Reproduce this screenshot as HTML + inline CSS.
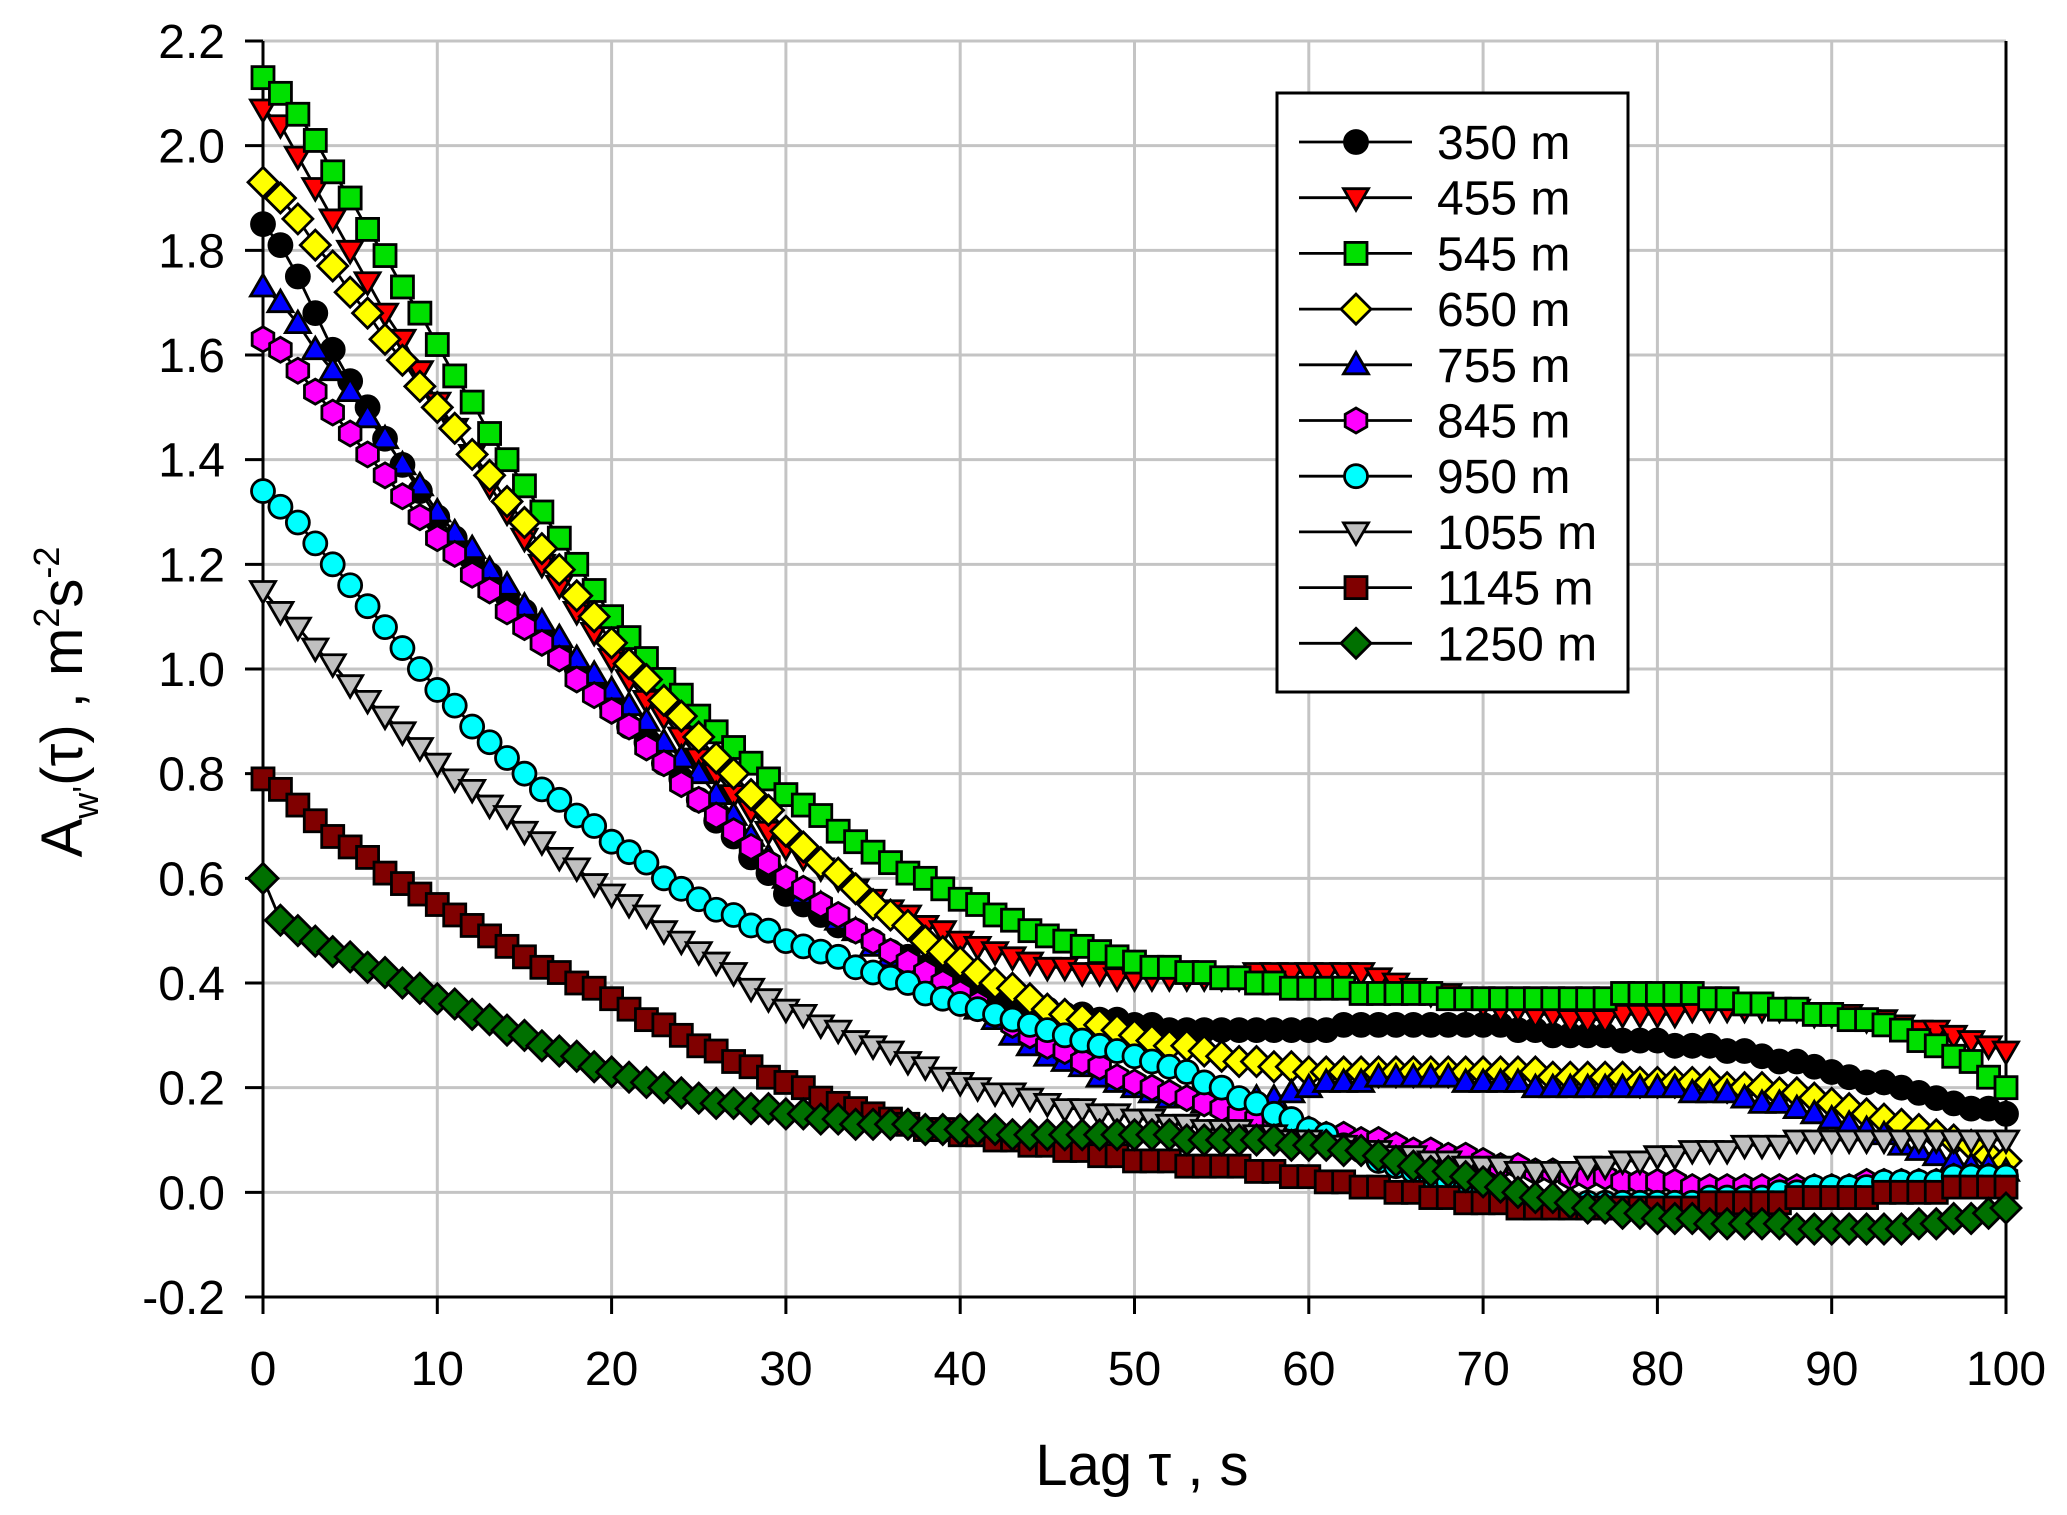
<!DOCTYPE html>
<html><head><meta charset="utf-8"><style>
html,body{margin:0;padding:0;background:#fff}
svg{display:block;font-family:"Liberation Sans",Arial,sans-serif}
</style></head><body>
<svg id="chart" width="2067" height="1515" viewBox="0 0 2067 1515" xmlns="http://www.w3.org/2000/svg">
<rect width="2067" height="1515" fill="#fff"/>
<g id="grid"></g>
<g id="axes"></g>
<g id="series"></g>
<g id="legend"></g>
<text x="1142" y="1485" font-size="58" text-anchor="middle">Lag τ , s</text>
<text transform="translate(82,702) rotate(-90)" font-size="58" text-anchor="middle">A<tspan font-size="36" dy="16">w'</tspan><tspan dy="-16">(τ) , m</tspan><tspan font-size="36" dy="-23">2</tspan><tspan dy="23">s</tspan><tspan font-size="36" dy="-23">-2</tspan></text>
</svg>
<script>
const xTicks=[0,10,20,30,40,50,60,70,80,90,100];
const yTicks=[-0.2,0.0,0.2,0.4,0.6,0.8,1.0,1.2,1.4,1.6,1.8,2.0,2.2];
const yTickLabels=["-0.2","0.0","0.2","0.4","0.6","0.8","1.0","1.2","1.4","1.6","1.8","2.0","2.2"];
const seriesNames=["350 m","455 m","545 m","650 m","755 m","845 m","950 m","1055 m","1145 m","1250 m"];
const s350=[1.85,1.81,1.75,1.68,1.61,1.55,1.50,1.44,1.39,1.34,1.29,1.25,1.21,1.18,1.14,1.11,1.07,1.04,1.00,0.97,0.93,0.89,0.86,0.82,0.79,0.75,0.71,0.68,0.64,0.61,0.57,0.55,0.53,0.51,0.50,0.48,0.46,0.45,0.43,0.42,0.40,0.39,0.38,0.37,0.36,0.35,0.34,0.34,0.33,0.33,0.32,0.32,0.31,0.31,0.31,0.31,0.31,0.31,0.31,0.31,0.31,0.31,0.32,0.32,0.32,0.32,0.32,0.32,0.32,0.32,0.32,0.32,0.31,0.31,0.30,0.30,0.30,0.30,0.29,0.29,0.29,0.28,0.28,0.28,0.27,0.27,0.26,0.25,0.25,0.24,0.23,0.22,0.21,0.21,0.20,0.19,0.18,0.17,0.16,0.16,0.15];
const s455=[2.07,2.04,1.98,1.92,1.86,1.80,1.74,1.68,1.63,1.57,1.51,1.46,1.41,1.35,1.30,1.25,1.20,1.16,1.11,1.07,1.02,0.98,0.94,0.91,0.87,0.83,0.80,0.76,0.73,0.69,0.66,0.64,0.62,0.60,0.58,0.56,0.54,0.53,0.51,0.50,0.48,0.47,0.46,0.45,0.44,0.43,0.43,0.42,0.42,0.41,0.41,0.41,0.41,0.41,0.41,0.41,0.41,0.42,0.42,0.42,0.42,0.42,0.42,0.42,0.41,0.40,0.39,0.38,0.38,0.37,0.36,0.35,0.35,0.34,0.34,0.33,0.33,0.33,0.34,0.34,0.34,0.34,0.35,0.35,0.35,0.35,0.35,0.35,0.35,0.34,0.34,0.34,0.33,0.33,0.32,0.31,0.31,0.30,0.29,0.28,0.27];
const s545=[2.13,2.10,2.06,2.01,1.95,1.90,1.84,1.79,1.73,1.68,1.62,1.56,1.51,1.45,1.40,1.35,1.30,1.25,1.20,1.15,1.10,1.06,1.02,0.98,0.95,0.91,0.88,0.85,0.82,0.79,0.76,0.74,0.72,0.69,0.67,0.65,0.63,0.61,0.60,0.58,0.56,0.55,0.53,0.52,0.50,0.49,0.48,0.47,0.46,0.45,0.44,0.43,0.43,0.42,0.42,0.41,0.41,0.40,0.40,0.39,0.39,0.39,0.39,0.38,0.38,0.38,0.38,0.38,0.37,0.37,0.37,0.37,0.37,0.37,0.37,0.37,0.37,0.37,0.38,0.38,0.38,0.38,0.38,0.37,0.37,0.36,0.36,0.35,0.35,0.34,0.34,0.33,0.33,0.32,0.31,0.29,0.28,0.26,0.25,0.22,0.20];
const s650=[1.93,1.90,1.86,1.81,1.77,1.72,1.68,1.63,1.59,1.54,1.50,1.46,1.41,1.37,1.32,1.28,1.23,1.19,1.14,1.10,1.05,1.01,0.98,0.94,0.91,0.87,0.83,0.80,0.76,0.73,0.69,0.66,0.63,0.61,0.58,0.55,0.53,0.51,0.48,0.46,0.44,0.42,0.40,0.39,0.37,0.35,0.34,0.33,0.32,0.31,0.30,0.29,0.28,0.28,0.27,0.26,0.25,0.25,0.24,0.24,0.23,0.23,0.23,0.23,0.23,0.23,0.23,0.23,0.23,0.23,0.23,0.23,0.23,0.23,0.22,0.22,0.22,0.22,0.22,0.21,0.21,0.21,0.21,0.21,0.20,0.20,0.20,0.19,0.19,0.18,0.17,0.16,0.15,0.14,0.13,0.12,0.11,0.10,0.09,0.07,0.06];
const s755=[1.73,1.70,1.66,1.61,1.57,1.53,1.48,1.44,1.39,1.35,1.30,1.26,1.23,1.19,1.16,1.12,1.09,1.06,1.02,0.99,0.96,0.93,0.90,0.86,0.83,0.80,0.76,0.72,0.68,0.64,0.60,0.57,0.55,0.52,0.50,0.47,0.45,0.43,0.41,0.39,0.37,0.35,0.33,0.30,0.28,0.26,0.25,0.24,0.22,0.21,0.20,0.19,0.18,0.18,0.17,0.17,0.17,0.18,0.18,0.19,0.20,0.21,0.21,0.21,0.22,0.22,0.22,0.22,0.22,0.21,0.21,0.21,0.21,0.20,0.20,0.20,0.20,0.20,0.20,0.20,0.20,0.20,0.19,0.19,0.19,0.18,0.17,0.17,0.16,0.15,0.14,0.13,0.12,0.11,0.09,0.08,0.07,0.06,0.05,0.05,0.04];
const s845=[1.63,1.61,1.57,1.53,1.49,1.45,1.41,1.37,1.33,1.29,1.25,1.22,1.18,1.15,1.11,1.08,1.05,1.02,0.98,0.95,0.92,0.89,0.85,0.82,0.78,0.75,0.72,0.69,0.66,0.63,0.60,0.58,0.55,0.53,0.50,0.48,0.46,0.44,0.42,0.40,0.38,0.36,0.34,0.32,0.30,0.28,0.27,0.25,0.24,0.22,0.21,0.20,0.19,0.18,0.17,0.16,0.15,0.14,0.14,0.13,0.12,0.11,0.11,0.10,0.10,0.09,0.08,0.08,0.07,0.07,0.06,0.05,0.05,0.04,0.04,0.03,0.03,0.03,0.02,0.02,0.02,0.02,0.01,0.01,0.01,0.01,0.01,0.01,0.01,0.01,0.01,0.01,0.02,0.02,0.02,0.02,0.02,0.03,0.03,0.03,0.03];
const s950=[1.34,1.31,1.28,1.24,1.20,1.16,1.12,1.08,1.04,1.00,0.96,0.93,0.89,0.86,0.83,0.80,0.77,0.75,0.72,0.70,0.67,0.65,0.63,0.60,0.58,0.56,0.54,0.53,0.51,0.50,0.48,0.47,0.46,0.45,0.43,0.42,0.41,0.40,0.38,0.37,0.36,0.35,0.34,0.33,0.32,0.31,0.30,0.29,0.28,0.27,0.26,0.25,0.24,0.23,0.21,0.20,0.18,0.17,0.15,0.14,0.12,0.11,0.09,0.08,0.06,0.05,0.04,0.03,0.02,0.01,0.00,-0.01,-0.01,-0.02,-0.02,-0.02,-0.02,-0.02,-0.02,-0.02,-0.02,-0.02,-0.02,-0.01,-0.01,-0.01,-0.01,0.00,0.00,0.01,0.01,0.01,0.01,0.02,0.02,0.02,0.02,0.03,0.03,0.03,0.03];
const s1055=[1.15,1.11,1.08,1.04,1.01,0.97,0.94,0.91,0.88,0.85,0.82,0.79,0.77,0.74,0.72,0.69,0.67,0.64,0.62,0.59,0.57,0.55,0.53,0.50,0.48,0.46,0.44,0.42,0.39,0.37,0.35,0.34,0.32,0.31,0.29,0.28,0.27,0.25,0.24,0.22,0.21,0.20,0.19,0.19,0.18,0.17,0.16,0.16,0.15,0.15,0.14,0.14,0.13,0.13,0.12,0.12,0.12,0.11,0.11,0.10,0.10,0.09,0.09,0.08,0.08,0.07,0.07,0.06,0.06,0.05,0.05,0.05,0.04,0.04,0.04,0.04,0.05,0.05,0.06,0.06,0.07,0.07,0.08,0.08,0.08,0.09,0.09,0.09,0.10,0.10,0.10,0.10,0.10,0.10,0.10,0.10,0.10,0.10,0.10,0.10,0.10];
const s1145=[0.79,0.77,0.74,0.71,0.68,0.66,0.64,0.61,0.59,0.57,0.55,0.53,0.51,0.49,0.47,0.45,0.43,0.42,0.40,0.39,0.37,0.35,0.33,0.32,0.30,0.28,0.27,0.25,0.24,0.22,0.21,0.20,0.18,0.17,0.16,0.15,0.14,0.13,0.12,0.12,0.11,0.11,0.10,0.10,0.09,0.09,0.08,0.08,0.07,0.07,0.06,0.06,0.06,0.05,0.05,0.05,0.05,0.04,0.04,0.03,0.03,0.02,0.02,0.01,0.01,0.00,0.00,-0.01,-0.01,-0.02,-0.02,-0.02,-0.03,-0.03,-0.03,-0.03,-0.03,-0.03,-0.03,-0.03,-0.03,-0.03,-0.03,-0.02,-0.02,-0.02,-0.02,-0.02,-0.01,-0.01,-0.01,-0.01,-0.01,0.00,0.00,0.00,0.00,0.01,0.01,0.01,0.01];
const s1250=[0.60,0.52,0.50,0.48,0.46,0.45,0.43,0.42,0.40,0.39,0.37,0.36,0.34,0.33,0.31,0.30,0.28,0.27,0.26,0.24,0.23,0.22,0.21,0.20,0.19,0.18,0.17,0.17,0.16,0.16,0.15,0.15,0.14,0.14,0.13,0.13,0.13,0.13,0.12,0.12,0.12,0.12,0.12,0.11,0.11,0.11,0.11,0.11,0.11,0.11,0.11,0.11,0.11,0.10,0.10,0.10,0.10,0.10,0.10,0.09,0.09,0.09,0.08,0.08,0.07,0.06,0.05,0.04,0.04,0.03,0.02,0.01,0.00,-0.01,-0.01,-0.02,-0.03,-0.03,-0.04,-0.04,-0.05,-0.05,-0.05,-0.06,-0.06,-0.06,-0.06,-0.06,-0.07,-0.07,-0.07,-0.07,-0.07,-0.07,-0.07,-0.06,-0.06,-0.05,-0.05,-0.04,-0.03];
const seriesValues=[s350,s455,s545,s650,s755,s845,s950,s1055,s1145,s1250];

const NS="http://www.w3.org/2000/svg";
const X0=263,X1=2006,Y0=1297,Y1=41,xMin=0,xMax=100,yMin=-0.2,yMax=2.2;
function xs(v){return X0+(v-xMin)/(xMax-xMin)*(X1-X0);}
function ys(v){return Y0-(v-yMin)/(yMax-yMin)*(Y0-Y1);}
function mk(tag,attrs,parent){const e=document.createElementNS(NS,tag);for(const k in attrs)e.setAttribute(k,attrs[k]);parent.appendChild(e);return e;}
const styles=[
 {shape:"circle",fill:"#000000"},{shape:"tri-down",fill:"#ff0000"},{shape:"square",fill:"#00e000"},
 {shape:"diamond",fill:"#ffff00"},{shape:"tri-up",fill:"#0000ff"},{shape:"hexagon",fill:"#ff00ff"},
 {shape:"circle",fill:"#00ffff"},{shape:"tri-down",fill:"#c0c0c0"},{shape:"square",fill:"#800000"},
 {shape:"diamond",fill:"#007000"}];
function marker(st,cx,cy,parent){
 const a={fill:st.fill,stroke:"#000","stroke-width":2.8};let e;
 if(st.shape==="circle"){e=mk("circle",Object.assign({cx:cx,cy:cy,r:11.5},a),parent);}
 else if(st.shape==="square"){e=mk("rect",Object.assign({x:cx-11,y:cy-11,width:22,height:22},a),parent);}
 else{let p;
  if(st.shape==="tri-down")p=[[cx-12.5,cy-9],[cx+12.5,cy-9],[cx,cy+12.5]];
  else if(st.shape==="tri-up")p=[[cx-12.5,cy+9],[cx+12.5,cy+9],[cx,cy-12.5]];
  else if(st.shape==="diamond")p=[[cx,cy-15],[cx+15,cy],[cx,cy+15],[cx-15,cy]];
  else{p=[];for(let i=0;i<6;i++){const t=Math.PI/6+i*Math.PI/3;p.push([cx+12.5*Math.cos(t),cy+12.5*Math.sin(t)]);}}
  e=mk("polygon",Object.assign({points:p.map(q=>q.join(",")).join(" ")},a),parent);}
 return e;}
const grid=document.getElementById("grid");
xTicks.forEach(t=>{const l=mk("line",{x1:xs(t),x2:xs(t),y1:Y1,y2:Y0,stroke:"#c4c4c4","stroke-width":3},grid);
 
 });
yTicks.forEach(t=>{const l=mk("line",{x1:X0,x2:X1,y1:ys(t),y2:ys(t),stroke:"#c4c4c4","stroke-width":3},grid);
 
 });
const axes=document.getElementById("axes");
[[X0,Y1,X0,Y0+1.5,'y-axis-line'],[X0-1.5,Y0,X1+1.5,Y0,'x-axis-line'],[X1,Y1,X1,Y0,'right-axis-line']].forEach(d=>{
 const l=mk("line",{x1:d[0],y1:d[1],x2:d[2],y2:d[3],stroke:"#000","stroke-width":3},axes);
 
 });
xTicks.forEach(t=>{const l=mk("line",{x1:xs(t),x2:xs(t),y1:Y0,y2:Y0+17,stroke:"#000","stroke-width":3},axes);
 
 
 const tx=mk("text",{x:xs(t),y:Y0+88,"font-size":48,"text-anchor":"middle"},axes);tx.textContent=String(t);
 
 });
yTicks.forEach((t,i)=>{const l=mk("line",{x1:X0-18,x2:X0,y1:ys(t),y2:ys(t),stroke:"#000","stroke-width":3},axes);
 
 
 const tx=mk("text",{x:X0-38,y:ys(t)+17,"font-size":48,"text-anchor":"end"},axes);tx.textContent=yTickLabels[i];
 
 });
const sg=document.getElementById("series");
seriesValues.forEach((vals,si)=>{
 const g=mk("g",{},sg);
 
 
 const pts=vals.map((v,i)=>xs(i)+","+ys(v)).join(" ");
 const pl=mk("polyline",{points:pts,fill:"none",stroke:"#000","stroke-width":2.8},g);
 
 
 vals.forEach((v,i)=>{const m=marker(styles[si],xs(i),ys(v),g);
  
  });
});
const lg=document.getElementById("legend");
const box=mk("rect",{x:1277,y:93,width:351,height:599,fill:"#fff",stroke:"#000","stroke-width":3},lg);


seriesNames.forEach((n,i)=>{const y=142+55.7*i;
 const g=mk("g",{},lg);
 
 
 mk("line",{x1:1299,x2:1412,y1:y,y2:y,stroke:"#000","stroke-width":2.8},g);
 marker(styles[i],1356,y,g);
 const t=mk("text",{x:1437,y:y+17,"font-size":48},g);t.textContent=n;});
</script>
</body></html>
